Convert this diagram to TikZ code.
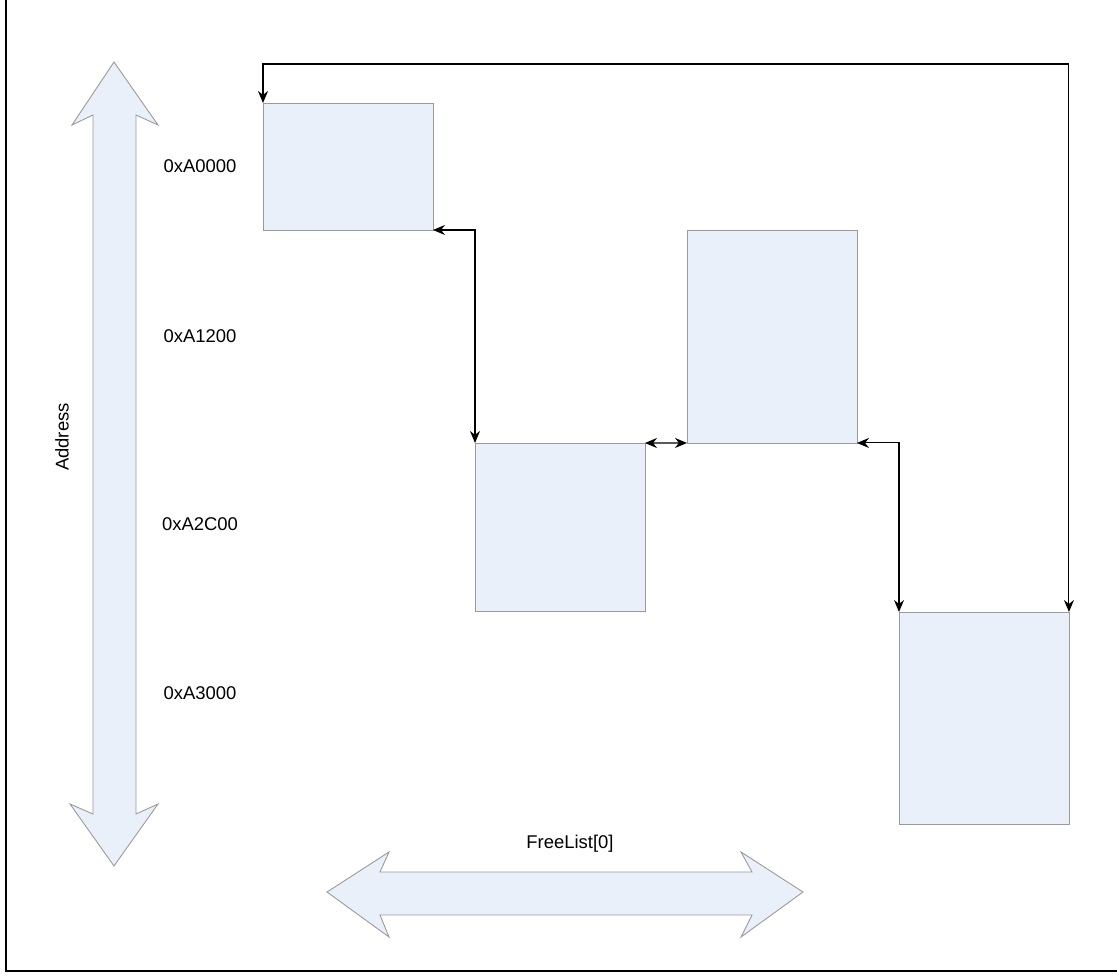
\documentclass[tikz,border=0pt]{standalone}
\usepackage{fontspec}
\setmainfont{Liberation Sans}
\usepackage{xcolor}
\usepackage{tikz}
\usetikzlibrary{arrows.meta}

\definecolor{blockfill}{HTML}{E9F0F9}
\definecolor{blockline}{HTML}{9A9A9A}

\begin{document}
\begin{tikzpicture}[x=0.02cm, y=-0.02cm,
    block/.style={draw=blockline, fill=blockfill, anchor=north west,
        minimum width=3.4cm, inner sep=0pt, outer sep=0pt},
    link/.style={{Stealth[length=2.4mm,width=2mm]}-{Stealth[length=2.4mm,width=2mm]}, line width=0.6pt},
    bigarrow/.style={draw=blockline, fill=blockfill, line width=0.5pt},
    lbl/.style={font=\fontsize{10.5}{12}\selectfont}]
        \useasboundingbox (0,0) rectangle (1117,975);

        % Rahmen
        \draw[line width=1.1pt] (6,0) -- (6,971) -- (1117,971);

        % Speicherbloecke
        \node[block, minimum height=2.54cm] (blkA) at (263,103) {};
        \node[block, minimum height=3.36cm] (blkB) at (475,443) {};
        \node[block, minimum height=4.26cm] (blkC) at (687,230) {};
        \node[block, minimum height=4.24cm] (blkD) at (899,612) {};

        % Verkettung
        \coordinate (top) at (600,64);
        \draw[link] (blkA.north west) |- (top) -| (blkD.north east);
        \draw[link] (blkA.south east) -| (blkB.north west);
        \draw[link] (blkB.north east) -- (blkC.south west);
        \draw[link] (blkC.south east) -| (blkD.north west);

        % Adresspfeil
        \draw[bigarrow] (114,62) -- (158,125) -- (136,115) -- (136,814) -- (158,804)
            -- (114,866) -- (70,804) -- (93,814) -- (93,115) -- (72,125) -- cycle;
        \node[lbl, rotate=90] (addr) at (62,437) {Address};

        % Listenpfeil
        \draw[bigarrow] (327,892) -- (389,852) -- (380,872) -- (752,872) -- (741,852)
            -- (803,892) -- (741,937) -- (752,915) -- (380,915) -- (389,937) -- cycle;
        \node[lbl] (free) at (570,844) {FreeList[0]};

        % Adressen
        \node[lbl] (adrA) at (200,166) {0xA0000};
        \node[lbl] (adrB) at (200,336) {0xA1200};
        \node[lbl] (adrC) at (200,524) {0xA2C00};
        \node[lbl] (adrD) at (200,693) {0xA3000};
    \end{tikzpicture}
\end{document}
